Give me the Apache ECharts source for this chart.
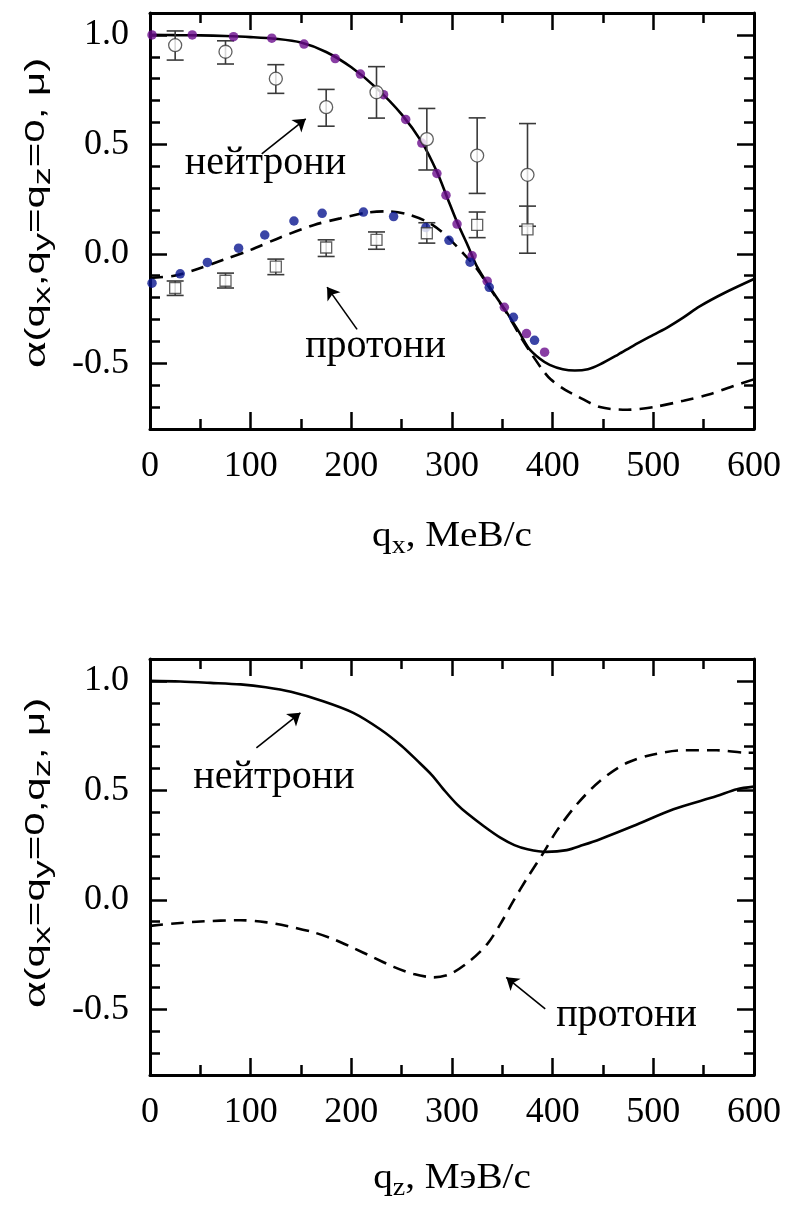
<!DOCTYPE html>
<html><head><meta charset="utf-8">
<script src="https://cdn.jsdelivr.net/npm/echarts@6/dist/echarts.min.js"></script>
<style>html,body{margin:0;padding:0;background:#fff}#c{width:786px;height:1205px}</style>
</head><body><div id="c"></div>
<script>
// ---------- data ----------
const yMajorTicks = [-0.5, 0.0, 0.5, 1.0];

// top panel: alpha(q_x, q_y=q_z=0)
const qxNeutronCurve = [[0,1.0],[25,0.999],[50,0.998],[75,0.995],[100,0.99],[125,0.982],[150,0.965],[175,0.922],[200,0.852],[225,0.757],[250,0.637],[270,0.51],[285,0.375],[295,0.26],[305,0.145],[315,0.045],[325,-0.06],[338,-0.156],[355,-0.272],[367,-0.36],[376,-0.43],[387,-0.478],[397,-0.507],[410,-0.527],[422,-0.533],[435,-0.527],[447,-0.505],[465,-0.46],[480,-0.42],[500,-0.37],[515,-0.333],[530,-0.29],[546,-0.24],[570,-0.18],[600,-0.115]];
const qxProtonCurve = [[0,-0.11],[24,-0.1],[45,-0.073],[73,-0.027],[100,0.018],[130,0.076],[163,0.132],[189,0.162],[215,0.188],[235,0.194],[255,0.182],[276,0.145],[292,0.092],[311,0.003],[325,-0.07],[338,-0.16],[355,-0.275],[367,-0.37],[378,-0.45],[390,-0.53],[398,-0.573],[412,-0.62],[424,-0.649],[447,-0.7],[474,-0.712],[500,-0.7],[530,-0.671],[556,-0.641],[580,-0.603],[600,-0.573]];
const qxNeutronDots = [[2,1.0],[42,1.0],[83,0.992],[121,0.985],[153,0.958],[184,0.892],[209,0.821],[232,0.727],[254,0.614],[270,0.506],[285,0.367],[294,0.268],[305,0.136],[320,-0.009],[335,-0.125],[352,-0.244],[374,-0.364],[392,-0.449]];
const qxProtonDots = [[2,-0.134],[30,-0.091],[57,-0.039],[88,0.026],[114,0.086],[143,0.15],[171,0.185],[212,0.191],[242,0.17],[274,0.12],[297,0.062],[318,-0.038],[337,-0.153],[361,-0.29],[382,-0.395]];
// experimental points: [q, value, low, high]
const qxNeutronExp = [[25,0.953,0.885,1.018],[75,0.923,0.867,0.973],[125,0.80,0.733,0.864],[175,0.67,0.583,0.751],[225,0.738,0.62,0.855],[275,0.524,0.383,0.664],[325,0.449,0.276,0.621],[375,0.361,0.126,0.595]];
const qxProtonExp = [[25,-0.156,-0.19,-0.124],[75,-0.123,-0.156,-0.088],[125,-0.058,-0.095,-0.024],[175,0.029,-0.012,0.064],[225,0.064,0.021,0.10],[275,0.094,0.049,0.142],[325,0.132,0.074,0.191],[375,0.112,0.003,0.218]];

// bottom panel: alpha(q_x=q_y=0, q_z)
const qzNeutronCurve = [[0,1.0],[30,0.997],[60,0.991],[90,0.984],[115,0.971],[140,0.95],[172,0.907],[202,0.854],[229,0.778],[250,0.703],[265,0.638],[280,0.57],[293,0.497],[305,0.436],[315,0.395],[332,0.335],[348,0.284],[362,0.25],[375,0.231],[394,0.219],[414,0.227],[430,0.25],[447,0.277],[480,0.337],[520,0.414],[563,0.474],[583,0.505],[600,0.517]];
const qzProtonCurve = [[0,-0.119],[24,-0.108],[50,-0.099],[90,-0.093],[116,-0.103],[136,-0.119],[163,-0.149],[182,-0.179],[202,-0.22],[222,-0.263],[242,-0.306],[262,-0.339],[282,-0.354],[298,-0.339],[318,-0.278],[335,-0.202],[348,-0.111],[361,-0.005],[375,0.102],[391,0.216],[404,0.315],[424,0.436],[447,0.543],[474,0.626],[500,0.664],[530,0.683],[563,0.683],[593,0.672],[600,0.672]];

// annotation arrows (data coords): [from, to]
const topArrows = [[[111,0.457],[154.7,0.617]], [[205.7,-0.345],[175.9,-0.152]]];
const botArrows = [[[105.7,0.694],[149.4,0.854]], [[392.6,-0.498],[353.9,-0.354]]];
const labelNeutrons = 'нейтрони';
const labelProtons = 'протони';

// ---------- chart ----------
const chart = echarts.init(document.getElementById('c'), null, {renderer:'canvas'});
const SERIF = 'Liberation Serif';
const SANS = 'Liberation Sans';
const grids = [
  {left:150, top:13, width:604, height:416},
  {left:150, top:659, width:604, height:416}
];
function xAxes(gi){
  const base = {
    type:'value', gridIndex:gi, min:0, max:600, interval:100,
    axisLine:{onZero:false, lineStyle:{color:'#000', width:3}},
    axisTick:{inside:true, length:17, lineStyle:{color:'#000', width:2.5}},
    minorTick:{show:true, splitNumber:2, length:10, lineStyle:{color:'#000', width:2.5}},
    splitLine:{show:false}
  };
  return [
    Object.assign({}, base, {position:'bottom', axisLabel:{margin:20, fontFamily:SERIF, fontSize:36, color:'#000'}}),
    Object.assign({}, base, {position:'top', axisLabel:{show:false}})
  ];
}
function yAxes(gi){
  const common = {type:'value', gridIndex:gi, min:-0.8, max:1.1, splitLine:{show:false},
    axisLine:{onZero:false, lineStyle:{color:'#000', width:3}}};
  const major = (pos, lab) => Object.assign({}, common, {position:pos,
    axisTick:{inside:true, length:17, customValues:yMajorTicks, lineStyle:{color:'#000', width:2.5}},
    axisLabel: lab ? {customValues:yMajorTicks, margin:21, fontFamily:SERIF, fontSize:36, color:'#000', formatter:v=>v.toFixed(1)} : {show:false}});
  const minor = (pos) => Object.assign({}, common, {position:pos, interval:0.1,
    axisLine:{show:false, onZero:false},
    axisTick:{inside:true, length:10, lineStyle:{color:'#000', width:2.5}},
    axisLabel:{show:false}});
  return [major('left', true), minor('left'), major('right', false), minor('right')];
}
function errBars(xi, yi, data){
  return {type:'custom', xAxisIndex:xi, yAxisIndex:yi, data:data, silent:true, z:3,
    encode:{x:0, y:[2,3]},
    renderItem:function(params, api){
      const x = api.value(0);
      const lo = api.coord([x, api.value(2)]);
      const hi = api.coord([x, api.value(3)]);
      const w = 8.5;
      const st = {stroke:'#3a3a3a', lineWidth:1.6, fill:null};
      return {type:'group', children:[
        {type:'line', shape:{x1:lo[0], y1:lo[1], x2:hi[0], y2:hi[1]}, style:st},
        {type:'line', shape:{x1:lo[0]-w, y1:lo[1], x2:lo[0]+w, y2:lo[1]}, style:st},
        {type:'line', shape:{x1:hi[0]-w, y1:hi[1], x2:hi[0]+w, y2:hi[1]}, style:st}
      ]};
    }};
}
function arrows(list){
  return {silent:true, symbol:['none','arrow'], symbolSize:12,
    label:{show:false}, lineStyle:{color:'#000', width:1.6, type:'solid'},
    itemStyle:{color:'#000'},
    emphasis:{disabled:true}, animation:false,
    data:list.map(a=>[{coord:a[0]},{coord:a[1]}])};
}
function curve(xi, yi, data, dashed, ml){
  const s = {type:'line', xAxisIndex:xi, yAxisIndex:yi, data:data, showSymbol:false, symbol:'none',
    smooth:0.3, silent:true, z:2,
    lineStyle:{color:'#000', width:2.6, type: dashed ? [13,8] : 'solid'}};
  if (ml) s.markLine = ml;
  return s;
}
function dots(xi, yi, data, color){
  return {type:'scatter', xAxisIndex:xi, yAxisIndex:yi, data:data, symbol:'circle', symbolSize:9.5,
    itemStyle:{color:color}, silent:true, z:4};
}
function openMarks(xi, yi, data, sym, size){
  return {type:'scatter', xAxisIndex:xi, yAxisIndex:yi, data:data.map(d=>[d[0],d[1]]), symbol:sym, symbolSize:size,
    itemStyle:{color:'#fff', borderColor:'#3a3a3a', borderWidth:1.3}, silent:true, z:5};
}

const richY = {
  a:{fontFamily:SERIF, fontSize:34, lineHeight:34, fill:'#000'},
  m:{fontFamily:SANS, fontSize:28, lineHeight:34, fill:'#000'},
  s:{fontFamily:SANS, fontSize:24, lineHeight:24, padding:[14,0,0,0], fill:'#000'}
};
const richX = {
  m:{fontFamily:SERIF, fontSize:35, lineHeight:38, fill:'#000'},
  s:{fontFamily:SERIF, fontSize:25, lineHeight:25, padding:[18,0,0,0], fill:'#000'}
};
function txt(x, y, text, size){
  return {type:'text', x:x, y:y, silent:true, style:{text:text, fontFamily:SERIF, fontSize:size, fill:'#000', align:'center', verticalAlign:'middle'}};
}

const option = {
  animation:false,
  backgroundColor:'#fff',
  grid:grids,
  xAxis:[].concat(xAxes(0), xAxes(1)),
  yAxis:[].concat(yAxes(0), yAxes(1)),
  series:[
    curve(0, 0, qxNeutronCurve, false, arrows(topArrows)),
    curve(0, 0, qxProtonCurve, true),
    dots(0, 0, qxNeutronDots, '#6a0c8c'),
    dots(0, 0, qxProtonDots, '#0a1790'),
    errBars(0, 0, qxNeutronExp),
    errBars(0, 0, qxProtonExp),
    openMarks(0, 0, qxNeutronExp, 'circle', 13),
    openMarks(0, 0, qxProtonExp, 'rect', 11),
    curve(2, 4, qzNeutronCurve, false, arrows(botArrows)),
    curve(2, 4, qzProtonCurve, true)
  ],
  graphic:[
    {type:'text', x:36, y:213, rotation:Math.PI/2, scaleX:1.5, silent:true,
      style:{text:'{a|α}{m|(q}{s|x}{m|,q}{s|y}{m|=q}{s|z}{m|=0, μ)}', rich:richY, align:'center', verticalAlign:'middle'}},
    {type:'text', x:36, y:853, rotation:Math.PI/2, scaleX:1.5, silent:true,
      style:{text:'{a|α}{m|(q}{s|x}{m|=q}{s|y}{m|=0,q}{s|z}{m|, μ)}', rich:richY, align:'center', verticalAlign:'middle'}},
    {type:'text', x:452, y:537, scaleX:1.12, silent:true,
      style:{text:'{m|q}{s|x}{m|, MeB/c}', rich:richX, align:'center', verticalAlign:'middle'}},
    {type:'text', x:452, y:1179, scaleX:1.12, silent:true,
      style:{text:'{m|q}{s|z}{m|, MэB/c}', rich:richX, align:'center', verticalAlign:'middle'}},
    txt(265.5, 163, labelNeutrons, 40),
    txt(375.5, 346, labelProtons, 40),
    txt(274, 777, labelNeutrons, 40),
    txt(626.5, 1015, labelProtons, 40)
  ]
};
chart.setOption(option);
</script>
</body></html>
